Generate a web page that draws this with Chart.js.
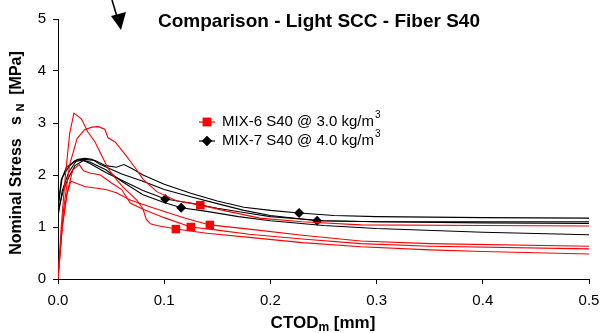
<!DOCTYPE html>
<html>
<head>
<meta charset="utf-8">
<script src="https://cdn.jsdelivr.net/npm/chart.js@4/dist/chart.umd.min.js"></script>
<style>
  body { margin: 0; background: #fff; }
</style>
</head>
<body>
<canvas id="chart" width="600" height="333"></canvas>
<script>
// ================= DATA =================
const xTicks = [0.0, 0.1, 0.2, 0.3, 0.4, 0.5];
const yTicks = [0, 1, 2, 3, 4, 5];

// MIX-6 S40 @ 3.0 kg/m3 (red)  [CTOD, stress]
const mix6A = [[0,0],[0.003,1.0],[0.007,2.0],[0.011,2.8],[0.015,3.19],[0.022,3.08],[0.028,2.83],[0.035,2.63],[0.041,2.38],[0.047,2.13],[0.054,1.94],[0.061,1.77],[0.074,1.52],[0.08,1.35],[0.083,1.15],[0.087,1.06],[0.093,1.03],[0.111,0.96],[0.14,0.88],[0.18,0.8],[0.23,0.7],[0.285,0.62],[0.35,0.56],[0.4,0.53],[0.5,0.48]];
const mix6B = [[0,0],[0.005,1.3],[0.011,2.2],[0.018,2.7],[0.025,2.87],[0.032,2.92],[0.038,2.93],[0.044,2.88],[0.047,2.72],[0.054,2.63],[0.063,2.4],[0.073,2.13],[0.08,1.92],[0.093,1.68],[0.112,1.5],[0.134,1.42],[0.16,1.3],[0.19,1.17],[0.23,1.1],[0.285,1.04],[0.4,1.03],[0.5,1.02]];
const mix6C = [[0,0],[0.004,1.0],[0.009,1.7],[0.014,2.1],[0.02,2.2],[0.024,2.08],[0.03,2.04],[0.04,2.0],[0.05,1.85],[0.06,1.72],[0.068,1.46],[0.08,1.34],[0.1,1.18],[0.125,1.0],[0.15,0.94],[0.18,0.86],[0.23,0.77],[0.285,0.68],[0.35,0.63],[0.5,0.58]];
const mix6D = [[0,0],[0.004,1.0],[0.008,1.6],[0.012,1.88],[0.016,1.85],[0.025,1.78],[0.035,1.75],[0.045,1.72],[0.055,1.66],[0.068,1.52],[0.085,1.4],[0.1,1.3],[0.12,1.17],[0.143,1.04],[0.18,0.96],[0.23,0.84],[0.285,0.73],[0.35,0.68],[0.5,0.63]];
const mix6Markers = [[0.111,0.96],[0.125,1.0],[0.143,1.04],[0.134,1.42]];

// MIX-7 S40 @ 4.0 kg/m3 (black)
const mix7A = [[0,1.35],[0.003,1.9],[0.008,2.15],[0.015,2.25],[0.025,2.3],[0.035,2.28],[0.045,2.18],[0.055,2.15],[0.062,2.2],[0.07,2.12],[0.08,2.0],[0.1,1.82],[0.125,1.65],[0.15,1.5],[0.175,1.38],[0.2,1.32],[0.227,1.27],[0.26,1.22],[0.3,1.2],[0.4,1.18],[0.5,1.17]];
const mix7B = [[0,1.2],[0.004,1.7],[0.01,2.05],[0.018,2.3],[0.025,2.32],[0.032,2.3],[0.04,2.2],[0.06,2.02],[0.08,1.88],[0.1,1.72],[0.125,1.58],[0.15,1.45],[0.175,1.32],[0.2,1.22],[0.244,1.12],[0.3,1.1],[0.4,1.1],[0.5,1.1]];
const mix7C = [[0,1.4],[0.004,1.95],[0.01,2.15],[0.016,2.28],[0.022,2.3],[0.03,2.22],[0.045,2.05],[0.06,1.9],[0.08,1.7],[0.101,1.54],[0.125,1.46],[0.15,1.36],[0.175,1.28],[0.2,1.2],[0.25,1.12],[0.3,1.1],[0.4,1.08],[0.5,1.07]];
const mix7D = [[0,1.3],[0.005,1.7],[0.01,1.95],[0.016,2.18],[0.024,2.28],[0.03,2.25],[0.045,2.1],[0.06,1.88],[0.08,1.62],[0.1,1.47],[0.116,1.37],[0.14,1.3],[0.17,1.2],[0.2,1.12],[0.25,1.03],[0.3,0.97],[0.4,0.9],[0.5,0.85]];
const mix7Markers = [[0.101,1.54],[0.116,1.37],[0.227,1.27],[0.244,1.12]];

const RED = "#ff0000";
const BLACK = "#000000";
const FONT = "'Liberation Sans', Arial, sans-serif";
const SQ_R = 6;   // red square
const DI_R = 5;   // black diamond

const toPts = arr => arr.map(p => ({ x: p[0], y: p[1] }));

function curve(arr, color) {
  return {
    data: toPts(arr),
    showLine: true,
    borderColor: color,
    borderWidth: 1.1,
    pointRadius: 0,
    tension: 0
  };
}

function markers(arr, color, style) {
  return {
    data: toPts(arr),
    showLine: false,
    pointStyle: style,
    pointRadius: style === "rect" ? SQ_R : DI_R,
    backgroundColor: color,
    borderColor: color,
    borderWidth: 0
  };
}

// draws text with a sub/superscript piece in the middle
function richText(ctx, parts, cx, cy) {
  let total = 0;
  parts.forEach(p => { ctx.font = p.font; p.w = ctx.measureText(p.t).width; total += p.w; });
  let x = cx - total / 2;
  parts.forEach(p => {
    ctx.font = p.font;
    ctx.fillText(p.t, x, cy + (p.dy || 0));
    x += p.w;
  });
}

// ================= TEXT / LEGEND / ARROW =================
const decorPlugin = {
  id: "decor",
  afterDraw(chart) {
    const ctx = chart.ctx;
    ctx.save();
    ctx.fillStyle = "#000";
    ctx.textBaseline = "middle";

    // title
    ctx.font = "bold 19px " + FONT;
    ctx.textAlign = "center";
    ctx.fillText("Comparison - Light SCC - Fiber S40", 319, 22);

    // x axis title
    ctx.textAlign = "left";
    richText(ctx, [
      { t: "CTOD", font: "bold 17px " + FONT },
      { t: "m", font: "bold 12px " + FONT, dy: 5 },
      { t: " [mm]", font: "bold 17px " + FONT }
    ], 323, 323);

    // y axis title, rotated
    ctx.translate(17, 153);
    ctx.rotate(-Math.PI / 2);
    richText(ctx, [
      { t: "Nominal Stress   s ", font: "bold 16px " + FONT },
      { t: "N", font: "bold 11px " + FONT, dy: 4 },
      { t: "  [MPa]", font: "bold 16px " + FONT }
    ], 0, 0);
    ctx.setTransform(1, 0, 0, 1, 0, 0);

    // legend
    const items = [
      { color: RED, style: "rect", r: SQ_R, label: "MIX-6 S40 @ 3.0 kg/m", y: 122 },
      { color: BLACK, style: "rectRot", r: DI_R, label: "MIX-7 S40 @ 4.0 kg/m", y: 141 }
    ];
    items.forEach(it => {
      ctx.strokeStyle = it.color;
      ctx.lineWidth = 1.2;
      ctx.beginPath();
      ctx.moveTo(199, it.y);
      ctx.lineTo(215, it.y);
      ctx.stroke();
      ctx.fillStyle = it.color;
      Chart.helpers.drawPoint(ctx, { pointStyle: it.style, radius: it.r, borderWidth: 0 }, 207, it.y);
      ctx.fill();
      ctx.fillStyle = "#000";
      ctx.font = "15px " + FONT;
      ctx.textAlign = "left";
      ctx.fillText(it.label, 222, it.y);
      const w = ctx.measureText(it.label).width;
      ctx.font = "10px " + FONT;
      ctx.fillText("3", 222 + w + 1, it.y - 7);
    });

    // arrow at the top
    ctx.strokeStyle = "#000";
    ctx.fillStyle = "#000";
    ctx.lineWidth = 1.6;
    ctx.beginPath();
    ctx.moveTo(112, 0);
    ctx.lineTo(118, 20);
    ctx.stroke();
    ctx.beginPath();
    ctx.moveTo(121, 30);
    ctx.lineTo(111, 16);
    ctx.lineTo(126, 12);
    ctx.closePath();
    ctx.fill();

    ctx.restore();
  }
};

// ================= CHART =================
new Chart(document.getElementById("chart"), {
  type: "scatter",
  data: {
    datasets: [
      curve(mix6A, RED), curve(mix6B, RED), curve(mix6C, RED), curve(mix6D, RED),
      curve(mix7A, BLACK), curve(mix7B, BLACK), curve(mix7C, BLACK), curve(mix7D, BLACK),
      markers(mix6Markers, RED, "rect"),
      markers(mix7Markers, BLACK, "rectRot")
    ]
  },
  options: {
    responsive: false,
    animation: false,
    layout: { padding: { top: 19, right: 11, left: 0, bottom: 0 } },
    plugins: {
      legend: { display: false },
      tooltip: { enabled: false }
    },
    scales: {
      x: {
        type: "linear",
        min: 0,
        max: 0.5,
        afterBuildTicks: s => { s.ticks = xTicks.map(v => ({ value: v })); },
        afterFit: s => { s.height = 54; s.paddingLeft = 0; s.paddingRight = 0; },
        border: { display: true, color: "#000", width: 1 },
        grid: { drawOnChartArea: false, drawTicks: true, tickLength: 5, color: "#000" },
        ticks: {
          color: "#000",
          padding: 8,
          maxRotation: 0,
          font: { family: FONT, size: 15 },
          callback: v => v.toFixed(1)
        }
      },
      y: {
        type: "linear",
        min: 0,
        max: 5,
        afterBuildTicks: s => { s.ticks = yTicks.map(v => ({ value: v })); },
        afterFit: s => { s.width = 58; },
        border: { display: true, color: "#000", width: 1 },
        grid: { drawOnChartArea: false, drawTicks: true, tickLength: 5, color: "#000" },
        ticks: {
          color: "#000",
          padding: 7,
          font: { family: FONT, size: 15 },
          callback: v => String(v)
        }
      }
    }
  },
  plugins: [decorPlugin]
});
</script>
</body>
</html>
